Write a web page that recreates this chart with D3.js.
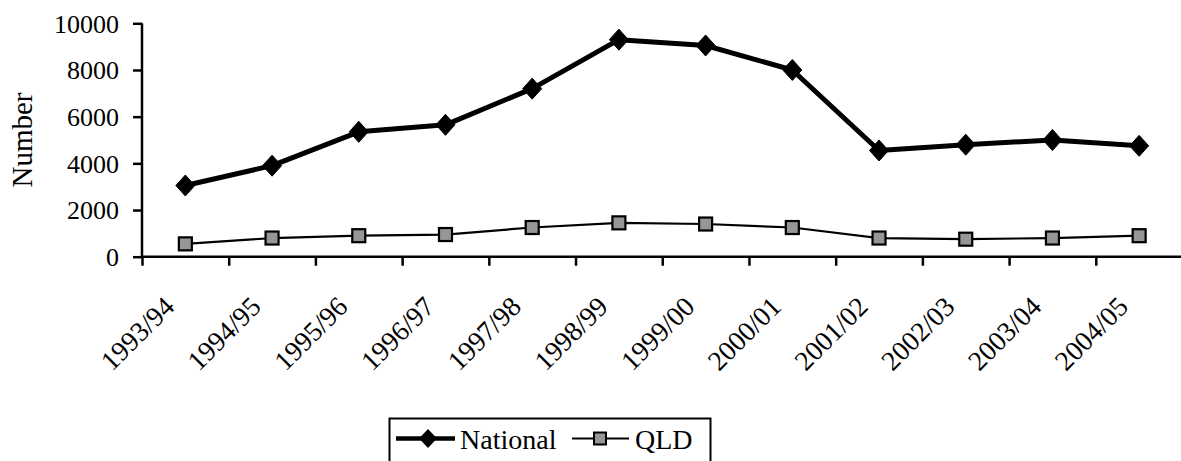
<!DOCTYPE html>
<html>
<head>
<meta charset="utf-8">
<script src="https://cdn.jsdelivr.net/npm/d3@7"></script>
<style>
  html, body { margin: 0; padding: 0; background: #fff; }
  svg { display: block; }
  text { font-family: "Liberation Serif", "Times New Roman", "DejaVu Serif", serif; fill: #000; }
</style>
</head>
<body>
<svg id="chart" width="1181" height="461"></svg>
<script>
const categories = ["1993/94","1994/95","1995/96","1996/97","1997/98","1998/99","1999/00","2000/01","2001/02","2002/03","2003/04","2004/05"];
const nationalValues = [3050, 3900, 5350, 5650, 7200, 9300, 9050, 8000, 4550, 4800, 5000, 4750];
const qldValues = [550, 800, 900, 950, 1250, 1450, 1400, 1250, 800, 750, 800, 900];
const yTicks = [0, 2000, 4000, 6000, 8000, 10000];
const seriesNames = ["National", "QLD"];
const yTitle = "Number";

const svg = d3.select("#chart");
const pLeft = 142, pRight = 1182.5, pTop = 23.3, pBottom = 256.7;
const fontSize = 26;

const x = d3.scaleBand().domain(categories).range([pLeft, pRight]).padding(0);
const xb = d3.scaleLinear().domain([0, categories.length]).range([pLeft, pRight]);
const y = d3.scaleLinear().domain([0, 10000]).range([pBottom, pTop]);
const cx = c => x(c) + x.bandwidth() / 2;

// Y axis
const yAxis = svg.append("g")
  .attr("transform", `translate(${pLeft},0)`)
  .call(d3.axisLeft(y).tickValues(yTicks).tickSize(9).tickPadding(14).tickFormat(d3.format("d")));
yAxis.attr("font-family", null).attr("font-size", null);
yAxis.select(".domain").attr("stroke", "#000").attr("stroke-width", 2.5).attr("d", `M0,${pTop}V${pBottom}`);
yAxis.selectAll(".tick line").attr("stroke", "#000").attr("stroke-width", 2.5);
yAxis.selectAll(".tick text").style("font-size", fontSize + "px").attr("dy", "0.34em");

// X axis
const xAxis = svg.append("g")
  .attr("transform", `translate(0,${pBottom})`)
  .call(d3.axisBottom(xb).tickValues(d3.range(0, categories.length + 1)).tickSize(9).tickFormat(""));
xAxis.select(".domain").attr("stroke", "#000").attr("stroke-width", 2.5).attr("d", `M${pLeft},0H${pRight}`);
xAxis.selectAll(".tick line").attr("stroke", "#000").attr("stroke-width", 2.5);

// X labels rotated
svg.append("g").selectAll("text").data(categories).join("text")
  .attr("transform", d => `translate(${cx(d) - 9.5},${pBottom + 51.5}) rotate(-45)`)
  .attr("text-anchor", "end")
  .style("font-size", "27.5px")
  .text(d => d);

// Y title
svg.append("text")
  .attr("transform", `translate(32,${(pTop + pBottom) / 2}) rotate(-90)`)
  .attr("text-anchor", "middle")
  .style("font-size", "29px")
  .text(yTitle);

// Lines
const line = d3.line().x(d => cx(d.c)).y(d => y(d.v));
const natData = categories.map((c, i) => ({ c, v: nationalValues[i] }));
const qldData = categories.map((c, i) => ({ c, v: qldValues[i] }));

svg.append("path").datum(qldData).attr("d", line)
  .attr("fill", "none").attr("stroke", "#000").attr("stroke-width", 2.2);
svg.append("path").datum(natData).attr("d", line)
  .attr("fill", "none").attr("stroke", "#000").attr("stroke-width", 5).attr("stroke-linejoin", "round");

const diamond = (px, py, w, h) => `M${px},${py - h / 2}L${px + w / 2},${py}L${px},${py + h / 2}L${px - w / 2},${py}Z`;

svg.append("g").selectAll("path").data(natData).join("path")
  .attr("d", d => diamond(cx(d.c), y(d.v), 19, 21))
  .attr("fill", "#000").attr("stroke", "#000").attr("stroke-width", 1);

svg.append("g").selectAll("rect").data(qldData).join("rect")
  .attr("x", d => cx(d.c) - 6.5).attr("y", d => y(d.v) - 6.5)
  .attr("width", 13).attr("height", 13)
  .attr("fill", "#969696").attr("stroke", "#000").attr("stroke-width", 2.2);

// Legend
const lg = svg.append("g");
lg.append("rect").attr("x", 389.5).attr("y", 418.5).attr("width", 321).attr("height", 60)
  .attr("fill", "#fff").attr("stroke", "#000").attr("stroke-width", 2);
const ly = 438.5;
lg.append("line").attr("x1", 396).attr("x2", 455).attr("y1", ly).attr("y2", ly)
  .attr("stroke", "#000").attr("stroke-width", 4.5);
lg.append("path").attr("d", diamond(428, ly, 18, 19)).attr("fill", "#000");
lg.append("text").attr("x", 460).attr("y", 449).style("font-size", "28px").text(seriesNames[0]);
lg.append("line").attr("x1", 572).attr("x2", 629).attr("y1", ly).attr("y2", ly)
  .attr("stroke", "#000").attr("stroke-width", 2.2);
lg.append("rect").attr("x", 594).attr("y", ly - 6).attr("width", 12).attr("height", 12)
  .attr("fill", "#969696").attr("stroke", "#000").attr("stroke-width", 2);
lg.append("text").attr("x", 635).attr("y", 449).style("font-size", "28px").text(seriesNames[1]);
</script>
</body>
</html>
